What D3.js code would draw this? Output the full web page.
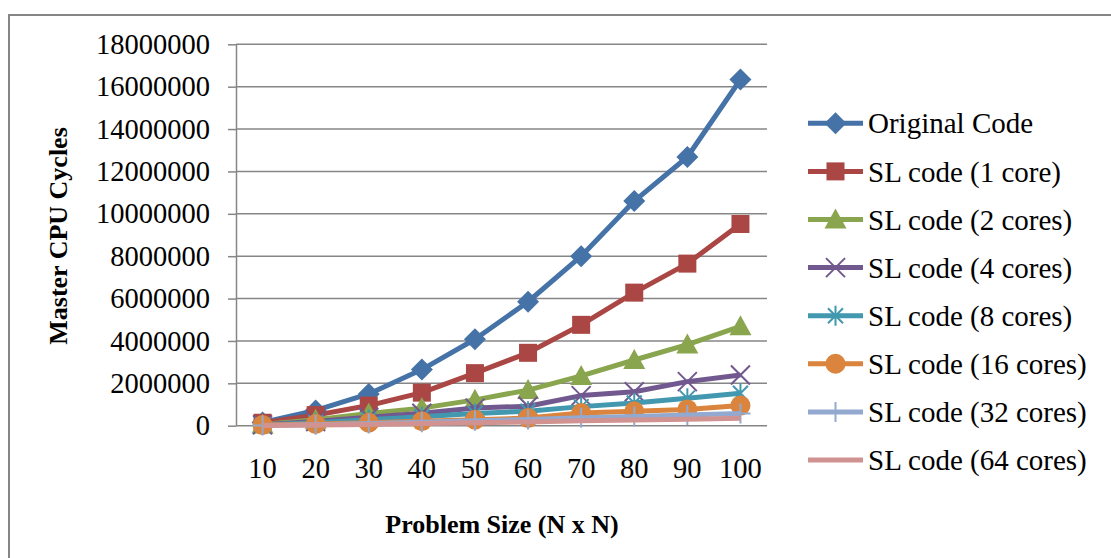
<!DOCTYPE html>
<html lang="en">
<head>
<meta charset="utf-8">
<title>Master CPU Cycles</title>
<script src="https://cdnjs.cloudflare.com/ajax/libs/d3/7.8.5/d3.min.js"></script>
<style>
  body { margin: 0; background: #fff; }
  svg { display: block; font-family: "Liberation Serif", "Times New Roman", serif; }
</style>
</head>
<body>
<svg id="chart"></svg>
<script>
// problem sizes (N x N)
var sizes = [10, 20, 30, 40, 50, 60, 70, 80, 90, 100];
var seriesNames = ["Original Code", "SL code (1 core)", "SL code (2 cores)", "SL code (4 cores)",
  "SL code (8 cores)", "SL code (16 cores)", "SL code (32 cores)", "SL code (64 cores)"];
var original = [150000, 720000, 1500000, 2650000, 4080000, 5850000, 8000000, 10600000, 12680000, 16340000];
var sl1  = [140000, 500000, 950000, 1560000, 2480000, 3440000, 4760000, 6280000, 7650000, 9520000];
var sl2  = [60000, 280000, 580000, 830000, 1220000, 1680000, 2350000, 3100000, 3830000, 4690000];
var sl4  = [40000, 200000, 400000, 590000, 830000, 920000, 1420000, 1600000, 2080000, 2390000];
var sl8  = [30000, 140000, 280000, 420000, 580000, 680000, 900000, 1070000, 1300000, 1530000];
var sl16 = [30000, 80000, 140000, 210000, 280000, 360000, 600000, 680000, 770000, 950000];
var sl32 = [10000, 50000, 100000, 160000, 230000, 290000, 370000, 440000, 510000, 580000];
var sl64 = [10000, 30000, 60000, 100000, 140000, 180000, 230000, 270000, 310000, 350000];
var yTicks = [0, 2000000, 4000000, 6000000, 8000000, 10000000, 12000000, 14000000, 16000000, 18000000];

var colors = ["#4572A7", "#AA4643", "#89A54E", "#71588F", "#4198AF", "#DB843D", "#93A9CF", "#D19392"];
var markers = ["diamond", "square", "triangle", "x", "star", "circle", "plus", "none"];
var values = [original, sl1, sl2, sl4, sl8, sl16, sl32, sl64];

var w = 1111, h = 558;
var plotLeft = 236, plotRight = 767, plotTop = 44.3, plotBottom = 425.7;

var svg = d3.select("#chart").attr("width", w).attr("height", h);

// outer chart border
svg.append("rect")
  .attr("x", 9).attr("y", 15).attr("width", 1130).attr("height", 600)
  .attr("fill", "none").attr("stroke", "#868686").attr("stroke-width", 2);

var x = d3.scaleBand().domain(sizes).range([plotLeft, plotRight]);
var y = d3.scaleLinear().domain([0, 18000000]).range([plotBottom, plotTop]);

// gridlines
svg.append("g").selectAll("line").data(yTicks).enter().append("line")
  .attr("x1", plotLeft).attr("x2", plotRight)
  .attr("y1", function(d) { return y(d); })
  .attr("y2", function(d) { return y(d); })
  .attr("stroke", "#868686").attr("stroke-width", 1.5);

// y axis
var yAxis = d3.axisLeft(y).tickValues(yTicks).tickSize(8).tickSizeOuter(0)
  .tickPadding(18).tickFormat(d3.format("d"));
var gy = svg.append("g").attr("transform", "translate(" + plotLeft + ",0)").call(yAxis);
gy.selectAll("path, line").attr("stroke", "#868686").attr("stroke-width", 1.5);
gy.selectAll("text").attr("font-size", "28.5px").attr("fill", "#000")
  .attr("font-family", "Liberation Serif, Times New Roman, serif");

// x axis (labels only)
var xAxis = d3.axisBottom(x).tickSize(0).tickPadding(32);
var gx = svg.append("g").attr("transform", "translate(0," + plotBottom + ")").call(xAxis);
gx.select(".domain").remove();
gx.selectAll("text").attr("font-size", "28.5px").attr("fill", "#000")
  .attr("font-family", "Liberation Serif, Times New Roman, serif");

// axis titles
svg.append("text")
  .attr("transform", "translate(67," + 236 + ") rotate(-90)")
  .attr("text-anchor", "middle")
  .attr("font-weight", "bold")
  .attr("font-size", "26px")
  .text("Master CPU Cycles");

svg.append("text")
  .attr("x", 502).attr("y", 533)
  .attr("text-anchor", "middle")
  .attr("font-weight", "bold")
  .attr("font-size", "26px")
  .text("Problem Size (N x N)");

// marker glyphs
function drawMarker(g, type, color) {
  if (type == "diamond") {
    g.append("path").attr("d", "M0,-11L11,0L0,11L-11,0Z").attr("fill", color);
  } else if (type == "square") {
    g.append("rect").attr("x", -9).attr("y", -9).attr("width", 18).attr("height", 18).attr("fill", color);
  } else if (type == "triangle") {
    g.append("path").attr("d", "M0,-11L11,9L-11,9Z").attr("fill", color);
  } else if (type == "x") {
    g.append("path").attr("d", "M-9.5,-9.5L9.5,9.5M-9.5,9.5L9.5,-9.5").attr("stroke", color).attr("stroke-width", 2).attr("fill", "none");
  } else if (type == "star") {
    g.append("path").attr("d", "M-7.5,-7.5L7.5,7.5M-7.5,7.5L7.5,-7.5M0,-10L0,10").attr("stroke", color).attr("stroke-width", 2).attr("fill", "none");
  } else if (type == "circle") {
    g.append("circle").attr("r", 10).attr("fill", color);
  } else if (type == "plus") {
    g.append("path").attr("d", "M0,-10L0,10M-10,0L10,0").attr("stroke", color).attr("stroke-width", 2).attr("fill", "none");
  }
}

var line = d3.line()
  .x(function(d, i) { return x(sizes[i]) + x.bandwidth() / 2; })
  .y(function(d) { return y(d); });

values.forEach(function(vals, s) {
  var g = svg.append("g");
  g.append("path").datum(vals)
    .attr("d", line)
    .attr("fill", "none")
    .attr("stroke", colors[s])
    .attr("stroke-width", 5)
    .attr("stroke-linejoin", "round");
  vals.forEach(function(v, i) {
    var m = g.append("g")
      .attr("transform", "translate(" + (x(sizes[i]) + x.bandwidth() / 2) + "," + y(v) + ")");
    drawMarker(m, markers[s], colors[s]);
  });
});

// legend
var legend = svg.append("g");
seriesNames.forEach(function(name, i) {
  var ly = 123.3 + i * 48.1;
  legend.append("line")
    .attr("x1", 808).attr("x2", 863).attr("y1", ly).attr("y2", ly)
    .attr("stroke", colors[i]).attr("stroke-width", 5);
  var m = legend.append("g").attr("transform", "translate(835.5," + ly + ")");
  drawMarker(m, markers[i], colors[i]);
  legend.append("text")
    .attr("x", 868).attr("y", ly)
    .attr("dy", "0.35em")
    .attr("font-size", "29px")
    .text(name);
});
</script>
</body>
</html>
